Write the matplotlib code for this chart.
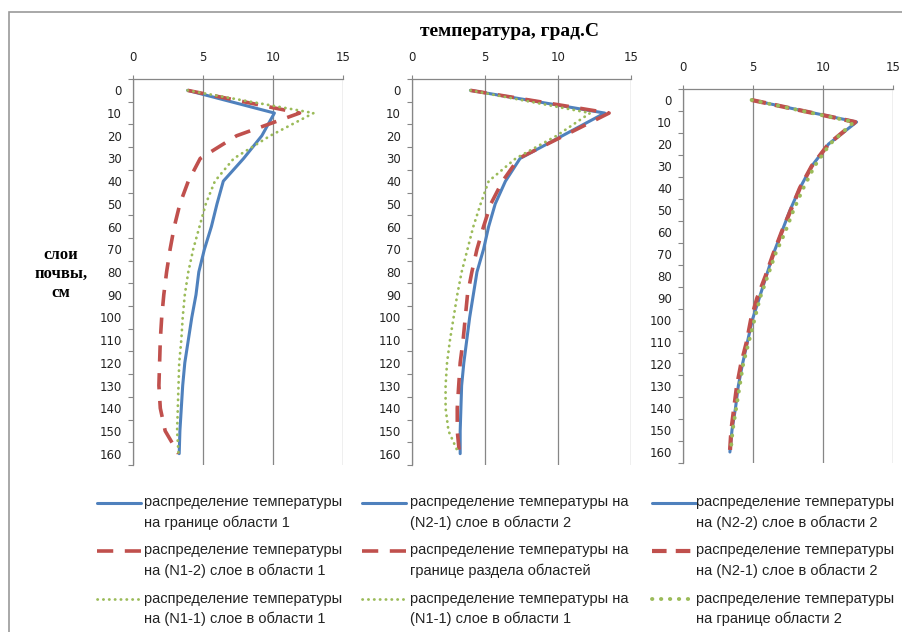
import numpy as np
import matplotlib
matplotlib.use("Agg")
from matplotlib import pyplot as plt
from matplotlib.lines import Line2D
from matplotlib.patches import Rectangle
from matplotlib.legend_handler import HandlerLine2D

# soil depth, cm
depth = [0, 10, 20, 30, 40, 50, 60, 70, 80, 90, 100, 110, 120, 130, 140, 150, 160]

# panel 1
p1_border1 = [3.9, 10.1, 9.2, 7.9, 6.45, 6.0, 5.6, 5.1, 4.7, 4.5, 4.2, 3.95, 3.7, 3.55, 3.45, 3.35, 3.3]
p1_n1_2 = [3.9, 11.9, 7.4, 4.8, 3.95, 3.35, 2.95, 2.65, 2.4, 2.2, 2.05, 1.95, 1.9, 1.85, 1.95, 2.3, 3.25]
p1_n1_1 = [3.9, 12.9, 9.8, 7.2, 5.85, 5.2, 4.75, 4.3, 3.95, 3.7, 3.55, 3.45, 3.3, 3.25, 3.2, 3.15, 3.25]

# panel 2
p2_n2_1 = [4.0, 13.2, 10.3, 7.4, 6.4, 5.7, 5.25, 4.9, 4.45, 4.2, 3.95, 3.75, 3.55, 3.4, 3.35, 3.3, 3.3]
p2_split = [4.0, 13.5, 10.4, 7.3, 6.2, 5.4, 4.9, 4.45, 4.1, 3.8, 3.65, 3.5, 3.3, 3.2, 3.1, 3.1, 3.25]
p2_n1_1 = [4.0, 12.2, 9.9, 7.1, 5.25, 4.7, 4.2, 3.8, 3.4, 3.1, 2.85, 2.6, 2.4, 2.3, 2.3, 2.5, 3.2]

# panel 3
p3_n2_2 = [4.9, 12.4, 10.4, 9.2, 8.35, 7.65, 7.05, 6.45, 5.95, 5.45, 4.95, 4.6, 4.25, 3.95, 3.75, 3.5, 3.35]
p3_n2_1 = [4.9, 12.3, 10.4, 9.2, 8.35, 7.7, 7.05, 6.45, 5.9, 5.3, 4.85, 4.55, 4.15, 3.85, 3.65, 3.45, 3.35]
p3_border2 = [4.9, 12.2, 10.5, 9.4, 8.6, 7.9, 7.3, 6.6, 6.05, 5.5, 5.1, 4.7, 4.3, 4.05, 3.8, 3.55, 3.4]

labels1 = ["распределение температуры\nна границе области 1",
           "распределение температуры\nна (N1-2) слое в области 1",
           "распределение температуры\nна (N1-1) слое в области 1"]
labels2 = ["распределение температуры на\n(N2-1) слое в области 2",
           "распределение температуры на\nгранице раздела областей",
           "распределение температуры на\n(N1-1) слое в области 1"]
labels3 = ["распределение температуры\nна (N2-2) слое в области 2",
           "распределение температуры\nна (N2-1) слое в области 2",
           "распределение температуры\nна границе области 2"]

BLUE = "#4F81BD"
RED = "#C0504D"
GREEN = "#9BBB59"
GRID = "#868686"

fig = plt.figure(figsize=(9.03, 6.32), dpi=100)


# handle line sits on the first text line, like Excel does
class TopLine(HandlerLine2D):
    def create_artists(self, legend, orig_handle, xdescent, ydescent,
                       width, height, fontsize, trans):
        arts = super().create_artists(legend, orig_handle, xdescent, ydescent,
                                      width, height, fontsize, trans)
        for a in arts:
            a.set_ydata(np.asarray(a.get_ydata()) + 7.2)
        return arts


def panel(rect, series, labels, styles, leg_xy, textpad):
    ax = fig.add_axes(rect)
    lines = []
    for vals, st in zip(series, styles):
        ln, = ax.plot(vals, depth, **st)
        lines.append(ln)
    ax.set_xlim(0, 15)
    ax.set_ylim(165, -5)
    ax.xaxis.tick_top()
    ax.set_xticks([0, 5, 10, 15])
    ax.set_yticks(depth)
    ax.set_yticks(np.arange(-5, 170, 10), minor=True)
    ax.grid(axis="x", color=GRID, lw=0.9)
    ax.set_axisbelow(True)
    ax.tick_params(axis="x", direction="out", length=3, width=0.8,
                   color=GRID, pad=7.5, labelsize=8.5, labelcolor="#222222")
    ax.tick_params(axis="y", which="major", length=0, pad=8,
                   labelsize=8.5, labelcolor="#222222")
    ax.tick_params(axis="y", which="minor", direction="out", length=3.6,
                   width=0.8, color=GRID)
    for s in ["right", "bottom"]:
        ax.spines[s].set_visible(False)
    for s in ["left", "top"]:
        ax.spines[s].set_color(GRID)
        ax.spines[s].set_linewidth(0.9)
    ax.legend(lines, labels, loc="upper left", bbox_to_anchor=leg_xy,
              bbox_transform=fig.transFigure, frameon=False, borderpad=0,
              borderaxespad=0, handlelength=3.0, handletextpad=textpad,
              labelspacing=0.93,
              prop={"family": "Liberation Sans", "size": 10.5},
              handler_map={Line2D: TopLine()})
    for t in ax.get_legend().get_texts():
        t.set_linespacing(1.55)
        t.set_color("#222222")
    return ax


st12 = [dict(color=BLUE, lw=2.2, solid_capstyle="round"),
        dict(color=RED, lw=2.6, ls=(0, (4.5, 3.2))),
        dict(color=GREEN, lw=2.0, ls=(0, (0.1, 2.0)), dash_capstyle="round")]
st3 = [dict(color=BLUE, lw=2.2, solid_capstyle="round"),
       dict(color=RED, lw=3.0, ls=(0, (3.5, 2.2))),
       dict(color=GREEN, lw=2.8, ls=(0, (0.1, 2.2)), dash_capstyle="round")]

panel([133 / 903, 1 - 465 / 632, 210 / 903, 386 / 632],
      [p1_border1, p1_n1_2, p1_n1_1], labels1, st12, (97 / 903, 1 - 495 / 632), 0.25)
panel([412 / 903, 1 - 465 / 632, 219 / 903, 386 / 632],
      [p2_n2_1, p2_split, p2_n1_1], labels2, st12, (362 / 903, 1 - 495 / 632), 0.3)
panel([683 / 903, 1 - 463 / 632, 210 / 903, 374 / 632],
      [p3_n2_2, p3_n2_1, p3_border2], labels3, st3, (652 / 903, 1 - 495 / 632), 0.05)

fig.text(510 / 903, 1 - 31 / 632, "температура, град.С", ha="center", va="center",
         family="Liberation Serif", weight="bold", size=14)
fig.text(61 / 903, 1 - 274 / 632, "слои\nпочвы,\nсм", ha="center", va="center",
         family="Liberation Serif", weight="bold", size=12, linespacing=1.25)

# outer chart border (cut by the picture edge on the right and bottom)
fig.add_artist(Rectangle((9.5 / 903, -0.1), 1.2, 1.1 - 12 / 632,
                         transform=fig.transFigure, fill=False,
                         ec="#9a9a9a", lw=1.2))

fig.savefig("out.png", dpi=100, facecolor="white")
